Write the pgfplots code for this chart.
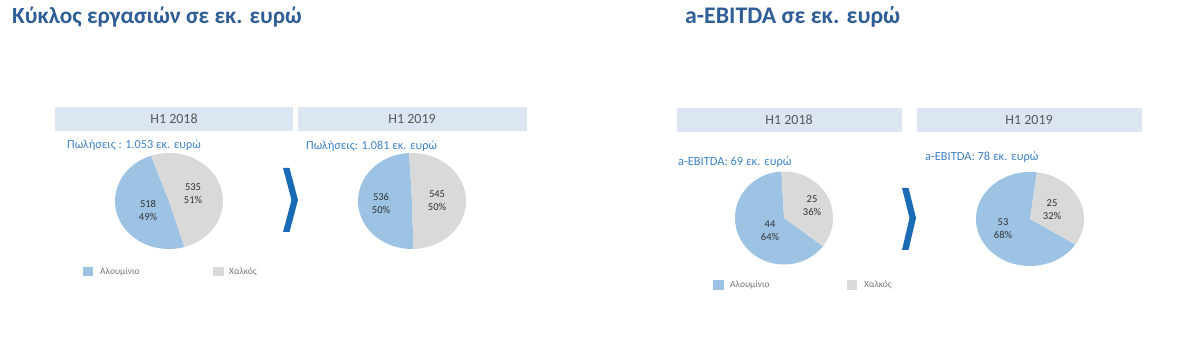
\documentclass[border=0pt]{standalone}
\usepackage{fontspec}
\setmainfont{Carlito}
\usepackage{pgfplots}
\pgfplotsset{compat=1.18}
\definecolor{titleblue}{RGB}{47,94,151}
\definecolor{subblue}{RGB}{61,130,196}
\definecolor{boxfill}{RGB}{220,230,242}
\definecolor{headtext}{RGB}{89,89,89}
\definecolor{alu}{RGB}{157,195,228}
\definecolor{copper}{RGB}{217,217,217}
\definecolor{lbltext}{RGB}{50,50,50}
\definecolor{legtext}{RGB}{118,118,118}
\definecolor{chev}{RGB}{27,106,181}

% one pie: #1 x centre, #2 y centre, #3 width, #4 height, #5 start angle, #6 aluminium, #7 copper
\newcommand{\pie}[7]{%
\pgfmathsetmacro{\pfrac}{#6/(#6+#7)}%
\pgfmathsetmacro{\pa}{#5+360*\pfrac}%
\pgfmathsetmacro{\pb}{#5+360}%
\begin{axis}[hide axis, scale only axis, clip=false,
  width=#3, height=#4, xmin=-1, xmax=1, ymin=-1, ymax=1,
  at={(#1pt,#2pt)}, anchor=center]
\addplot[draw=none, fill=alu, data cs=polar, domain=#5:\pa, samples=120] ({x},{1}) -- (axis cs:0,0) -- cycle;
\addplot[draw=none, fill=copper, data cs=polar, domain=\pa:\pb, samples=120] ({x},{1}) -- (axis cs:0,0) -- cycle;
\end{axis}}

\begin{document}
\begin{tikzpicture}[x=1pt,y=1pt]
\useasboundingbox (0,0) rectangle (1200,351);

% titles
\node[anchor=base west, inner sep=0, text=titleblue, font=\bfseries\fontsize{23.2}{28}\selectfont] at (12,327) {Κύκλος εργασιών σε εκ. ευρώ};
\node[anchor=base west, inner sep=0, text=titleblue, font=\bfseries\fontsize{23.8}{28}\selectfont] at (685,327) {a-EBITDA σε εκ. ευρώ};

% header boxes
\fill[boxfill] (55,220) rectangle (293,244);
\fill[boxfill] (298,220) rectangle (527,244);
\fill[boxfill] (677,219) rectangle (902,243);
\fill[boxfill] (917,219) rectangle (1142,243);
\node[text=headtext, font=\fontsize{14}{16}\selectfont] at (174,232) {H1 2018};
\node[text=headtext, font=\fontsize{14}{16}\selectfont] at (412,232) {H1 2019};
\node[text=headtext, font=\fontsize{14}{16}\selectfont] at (789,231) {H1 2018};
\node[text=headtext, font=\fontsize{14}{16}\selectfont] at (1029,231) {H1 2019};

% subtitles
\node[anchor=base west, inner sep=0, text=subblue, font=\fontsize{12.2}{14}\selectfont] at (67,202) {Πωλήσεις : 1.053 εκ. ευρώ};
\node[anchor=base west, inner sep=0, text=subblue, font=\fontsize{12.2}{14}\selectfont] at (306,201) {Πωλήσεις: 1.081 εκ. ευρώ};
\node[anchor=base west, inner sep=0, text=subblue, font=\fontsize{12.4}{14}\selectfont] at (678,185) {a-EBITDA: 69 εκ. ευρώ};
\node[anchor=base west, inner sep=0, text=subblue, font=\fontsize{12.4}{14}\selectfont] at (925,190) {a-EBITDA: 78 εκ. ευρώ};

% pies
\pie{169}{150}{108pt}{96pt}{109.5}{518}{535}
\pie{412}{150}{108pt}{96pt}{93}{536}{545}
\pie{784}{133}{98pt}{93pt}{93}{44}{25}
\pie{1030}{132}{108pt}{94pt}{82.6}{53}{25}

% pie labels
\tikzset{lbl/.style={text=lbltext, align=center, font=\fontsize{10.5}{13}\selectfont}}
\node[lbl] at (148,141) {518\\49\%};
\node[lbl] at (193,157) {535\\51\%};
\node[lbl] at (381,148) {536\\50\%};
\node[lbl] at (437,150) {545\\50\%};
\node[lbl] at (812,145) {25\\36\%};
\node[lbl] at (770,120) {44\\64\%};
\node[lbl] at (1052,141) {25\\32\%};
\node[lbl] at (1003,122) {53\\68\%};

% chevrons
\fill[chev] (283,183) -- (289.5,183) -- (298,151) -- (289.5,119) -- (283,119) -- (291.5,151) -- cycle;
\fill[chev] (902,163) -- (908.5,163) -- (916,133) -- (908.5,101) -- (902,101) -- (909.5,133) -- cycle;

% legends
\tikzset{leg/.style={anchor=west, inner sep=0, text=legtext, font=\fontsize{9.5}{11}\selectfont}}
\fill[alu] (83,75) rectangle (93,84);
\node[leg] at (100,79.5) {Αλουμίνιο};
\fill[copper] (213,75) rectangle (224,84);
\node[leg] at (229,79.5) {Χαλκός};
\fill[alu] (713,61) rectangle (724,71);
\node[leg] at (730,66) {Αλουμίνιο};
\fill[copper] (847,61) rectangle (857,71);
\node[leg] at (864,66) {Χαλκός};
\end{tikzpicture}
\end{document}
